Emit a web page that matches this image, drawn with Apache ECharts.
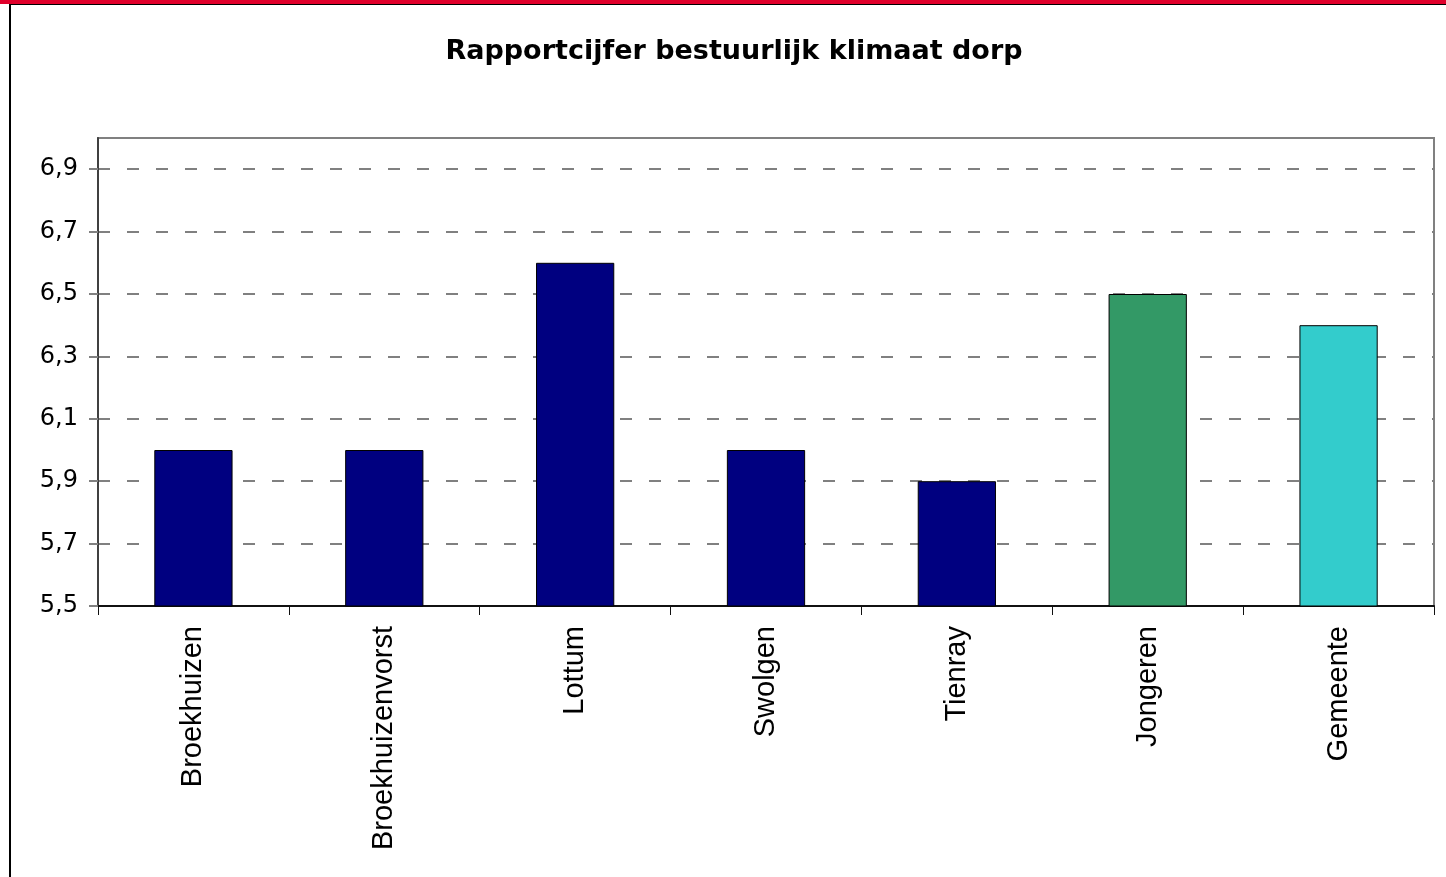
<!DOCTYPE html>
<html>
<head>
<meta charset="utf-8">
<script src="https://cdn.jsdelivr.net/npm/echarts@6/dist/echarts.min.js"></script>
<style>
  html, body { margin: 0; padding: 0; background: #fff; }
  #band { position: absolute; left: 0; top: 0; width: 1446px; height: 4px; background: #e0002b; }
  #frame { position: absolute; left: 9px; top: 4px; width: 1437px; height: 873px;
           border-top: 1px solid #000; border-left: 2px solid #000; box-sizing: border-box; }
  #chart { position: absolute; left: 0; top: 0; width: 1446px; height: 877px; }
</style>
</head>
<body>
<div id="band"></div>
<div id="frame"></div>
<div id="chart"></div>
<script>
  var categories = ['Broekhuizen', 'Broekhuizenvorst', 'Lottum', 'Swolgen', 'Tienray', 'Jongeren', 'Gemeente'];
  var scores = [6.0, 6.0, 6.6, 6.0, 5.9, 6.5, 6.4];
  var barColors = ['#000080', '#000080', '#000080', '#000080', '#000080', '#339966', '#33cccc'];

  var myChart = echarts.init(document.getElementById('chart'));

  var option = {
    animation: false,
    title: {
      text: 'Rapportcijfer bestuurlijk klimaat dorp',
      left: 729,
      top: 33,
      textAlign: 'center',
      textStyle: {
        fontFamily: 'DejaVu Sans',
        fontWeight: 'bold',
        fontSize: 27,
        color: '#000'
      }
    },
    grid: {
      left: 98,
      right: 12,
      top: 138,
      bottom: 271,
      show: true,
      borderColor: '#808080',
      borderWidth: 2,
      backgroundColor: '#fff'
    },
    xAxis: {
      type: 'category',
      data: categories,
      boundaryGap: true,
      axisLine: { lineStyle: { color: '#111', width: 2 } },
      axisTick: { show: true, length: 9, inside: false, lineStyle: { color: '#111', width: 1 } },
      axisLabel: {
        rotate: 90,
        margin: 20,
        fontFamily: 'Liberation Sans',
        fontSize: 29,
        color: '#000'
      }
    },
    yAxis: {
      type: 'value',
      min: 5.5,
      max: 7.0,
      interval: 0.2,
      axisLine: { show: true, lineStyle: { color: '#404040', width: 2 } },
      axisTick: { show: true, length: 9, lineStyle: { color: '#808080', width: 2 } },
      axisLabel: {
        margin: 20,
        fontFamily: 'DejaVu Sans',
        fontSize: 24,
        color: '#000',
        showMaxLabel: false,
        formatter: function (v) {
          if (v > 6.95) {
            return '';
          }
          return v.toFixed(1).replace('.', ',');
        }
      },
      splitLine: {
        show: true,
        lineStyle: { color: '#808080', width: 2, type: [12, 17] }
      }
    },
    series: [
      {
        type: 'bar',
        barWidth: '41%',
        data: scores.map(function (v, i) {
          return {
            value: v,
            itemStyle: { color: barColors[i], borderColor: '#000', borderWidth: 1 }
          };
        })
      }
    ]
  };

  myChart.setOption(option);
</script>
</body>
</html>
